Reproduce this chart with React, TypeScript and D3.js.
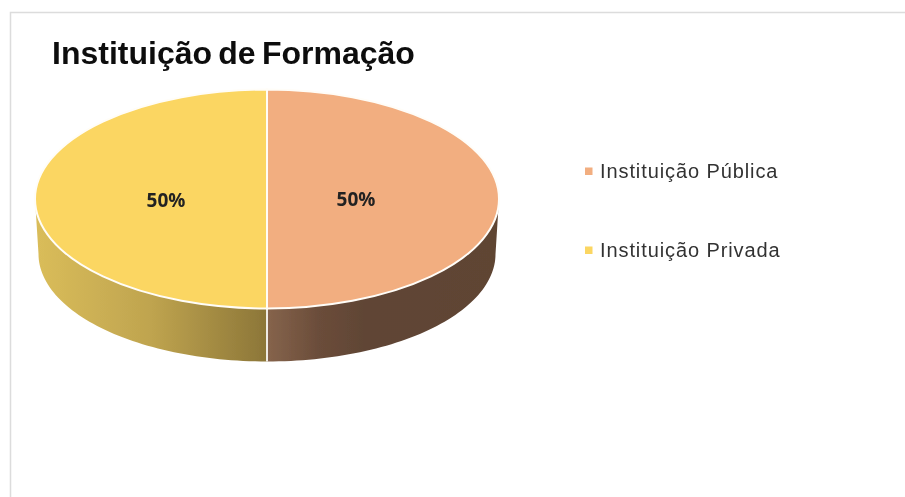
import React from "react";
import * as d3 from "d3";

const categories = ["Instituição Pública", "Instituição Privada"];
const shareValues = [50, 50];
const topColors = ["#F2AE80", "#FBD662"];
const chartTitle = "Instituição de Formação";

const W = 905, H = 497;
const cx = 267, cy = 199, rx = 232, ry = 109.5, depth = 53;
const lowerRx = 228.5, lowerRy = 107.5;

const pie = d3.pie<number>().sort(null).startAngle(0).endAngle(2 * Math.PI);
const arcs = pie(shareValues);
const arcGen = d3.arc<d3.PieArcDatum<number>>().innerRadius(0).outerRadius(rx);
const fmt = d3.format(".0%");
const total = d3.sum(shareValues);

const legendY = [171, 250];
const labelPos = [{ x: 356, y: 198.5 }, { x: 166, y: 199.5 }];

// side wall: lower rim of the ellipse between angles, extruded by depth
function sidePath(a0: number, a1: number) {
  const start = Math.max(a0, Math.PI / 2);
  const end = Math.min(a1, (3 * Math.PI) / 2);
  const steps = d3.range(0, 61).map((i) => start + ((end - start) * i) / 60);
  const upper = steps.map(
    (t) => [cx + rx * Math.sin(t), cy - ry * Math.cos(t)] as [number, number]
  );
  const lowerCy = cy + ry + depth - lowerRy;
  const lower = steps
    .map((t) => [cx + lowerRx * Math.sin(t), lowerCy - lowerRy * Math.cos(t)] as [number, number])
    .reverse();
  return d3.line()([...upper, ...lower]) + "Z";
}

export default function App() {
  return (
    <svg
      width={W}
      height={H}
      viewBox={`0 0 ${W} ${H}`}
      style={{ position: "absolute", left: 0, top: 0, background: "#fff" }}
    >
      <defs>
        <linearGradient id="sideR" gradientUnits="userSpaceOnUse" x1={cx} x2={cx + rx} y1="0" y2="0">
          <stop offset="0" stopColor="#86644C" />
          <stop offset="0.22" stopColor="#6B4D3A" />
          <stop offset="0.42" stopColor="#604535" />
          <stop offset="1" stopColor="#5F4433" />
        </linearGradient>
        <linearGradient id="sideL" gradientUnits="userSpaceOnUse" x1={cx - rx} x2={cx} y1="0" y2="0">
          <stop offset="0" stopColor="#DABD5A" />
          <stop offset="0.5" stopColor="#BFA44F" />
          <stop offset="1" stopColor="#8C7638" />
        </linearGradient>
        <filter id="soft" x="-5%" y="-20%" width="110%" height="140%">
          <feGaussianBlur stdDeviation="0.45" />
        </filter>
      </defs>

      <path d={`M10.5 497V12.5H905`} fill="none" stroke="#DCDCDC" strokeWidth={1.5} />

      <text
        x={52}
        y={64}
        fontFamily="Liberation Sans, Arial, sans-serif"
        fontWeight={700}
        fontSize={32}
        wordSpacing={-2.6}
        fill="#111"
        filter="url(#soft)"
      >
        {chartTitle}
      </text>

      <g filter="url(#soft)">
        {arcs.map((d, i) => (
          <path key={`s${i}`} d={sidePath(d.startAngle, d.endAngle)} fill={`url(#side${i === 0 ? "R" : "L"})`} />
        ))}
        <line x1={cx} x2={cx} y1={cy + ry} y2={cy + ry + depth} stroke="#EFEBE4" strokeWidth={2} />

        {arcs.map((d, i) => (
          <path
            key={`t${i}`}
            d={arcGen(d) as string}
            transform={`translate(${cx},${cy}) scale(1,${ry / rx})`}
            fill={topColors[i]}
            stroke="#FFFDF8"
            strokeWidth={2}
            vectorEffect="non-scaling-stroke"
          />
        ))}
      </g>

      {arcs.map((d, i) => (
        <text
          key={`l${i}`}
          x={labelPos[i].x}
          y={labelPos[i].y}
          textAnchor="middle"
          dominantBaseline="central"
          fontFamily="Open Sans, sans-serif"
          fontWeight={700}
          fontSize={19}
          fill="#222"
          filter="url(#soft)"
        >
          {fmt(d.value / total)}
        </text>
      ))}

      {categories.map((c, i) => (
        <g key={c}>
          <rect x={585} y={legendY[i] - 3.5} width={7.5} height={7.5} fill={topColors[i]} />
          <text
            x={600}
            y={legendY[i]}
            dominantBaseline="central"
            fontFamily="Liberation Sans, Arial, sans-serif"
            fontSize={20}
            letterSpacing={0.9}
            fill="#333"
            filter="url(#soft)"
          >
            {c}
          </text>
        </g>
      ))}
    </svg>
  );
}
